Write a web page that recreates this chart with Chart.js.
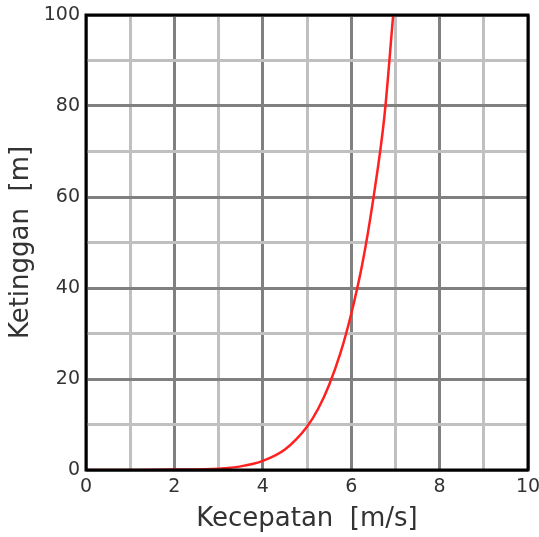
<!DOCTYPE html>
<html>
<head>
<meta charset="utf-8">
<script src="https://cdn.jsdelivr.net/npm/chart.js@4/dist/chart.umd.min.js"></script>
<style>
    html, body { margin: 0; padding: 0; background: #fff; }
    #wrap { width: 539px; height: 537px; }
</style>
</head>
<body>
<div id="wrap"><canvas id="chart"></canvas></div>
<script>
// values
var speed  = [0, 1, 2, 3, 3.5, 4, 4.5, 5, 5.25, 5.5, 5.75, 6, 6.25, 6.5, 6.75, 6.95];
var height = [0, 0, 0.1, 0.3, 0.8, 2, 4.5, 9.5, 13.4, 18.7, 25.5, 34.3, 45.2, 59.6, 77.6, 100];
var xLabels = ['0', '2', '4', '6', '8', '10'];
var yLabels = ['0', '20', '40', '60', '80', '100'];

var points = speed.map((v, i) => ({ x: v, y: height[i] }));

// black frame round the plot area
var frame = {
    id: 'frame',
    afterDraw(chart) {
        const a = chart.chartArea;
        const ctx = chart.ctx;
        ctx.save();
        ctx.strokeStyle = '#000';
        ctx.lineWidth = 3;
        ctx.strokeRect(a.left, a.top, a.right - a.left, a.bottom - a.top);
        ctx.restore();
    }
};

const tickFont = { family: 'DejaVu Sans', size: 19 };
const titleFont = { family: 'DejaVu Sans', size: 26 };

new Chart(document.getElementById('chart'), {
    type: 'scatter',
    data: {
        datasets: [{
            data: points,
            showLine: true,
            borderColor: '#ff2020',
            borderWidth: 2.5,
            pointRadius: 0,
            cubicInterpolationMode: 'monotone',
        }]
    },
    options: {
        responsive: true,
        maintainAspectRatio: false,
        animation: false,
        layout: { padding: { top: 15, right: 11, left: 0, bottom: 0 } },
        plugins: {
            legend: { display: false },
            tooltip: { enabled: false }
        },
        scales: {
            x: {
                min: 0, max: 10,
                afterFit(s) { s.height = 67; s.paddingLeft = 0; s.paddingRight = 0; },
                border: { display: false },
                grid: {
                    drawTicks: false,
                    lineWidth: 3,
                    color: ctx => (ctx.tick.value % 2 === 0 ? '#808080' : '#c0c0c0')
                },
                ticks: {
                    stepSize: 1,
                    padding: 6,
                    color: '#333',
                    font: tickFont,
                    maxRotation: 0,
                    autoSkip: false,
                    callback: v => (v % 2 === 0 ? xLabels[v / 2] : '')
                },
                title: {
                    display: true,
                    text: 'Kecepatan  [m/s]',
                    color: '#333',
                    font: titleFont,
                    padding: { top: 0, bottom: 2 }
                }
            },
            y: {
                min: 0, max: 100,
                afterFit(s) { s.width = 86; s.paddingTop = 0; s.paddingBottom = 0; },
                border: { display: false },
                grid: {
                    drawTicks: false,
                    lineWidth: 3,
                    color: ctx => (ctx.tick.value % 20 === 0 ? '#808080' : '#c0c0c0')
                },
                ticks: {
                    stepSize: 10,
                    padding: 6,
                    color: '#333',
                    font: tickFont,
                    autoSkip: false,
                    callback: v => (v % 20 === 0 ? yLabels[v / 20] : '')
                },
                title: {
                    display: true,
                    text: 'Ketinggan  [m]',
                    color: '#333',
                    font: titleFont,
                    padding: { top: 6, bottom: 0 }
                }
            }
        }
    },
    plugins: [frame]
});
</script>
</body>
</html>
